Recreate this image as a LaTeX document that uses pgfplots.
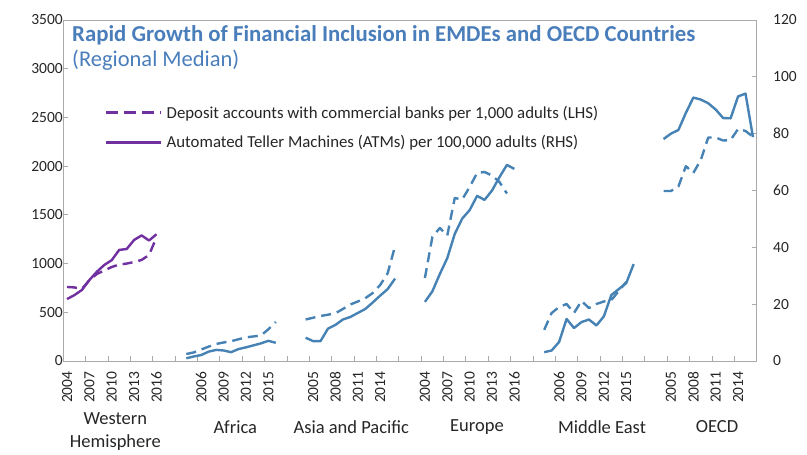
\documentclass[border=0pt]{standalone}
\usepackage{pgfplots}
\pgfplotsset{compat=1.18}
\usepackage{fontspec}
\setmainfont{Carlito}
\definecolor{wblue}{RGB}{70,130,180}
\definecolor{wpurp}{RGB}{112,48,160}
\definecolor{tblue}{RGB}{74,126,187}
\definecolor{agray}{RGB}{170,170,170}
\begin{document}
\begin{tikzpicture}
\useasboundingbox (-63.3pt,-94pt) rectangle (743.7pt,361pt);
\pgfplotsset{
 common/.style={
  scale only axis, width=693.4pt, height=341pt, at={(0pt,0pt)}, anchor=south west,
  xmin=-0.5, xmax=92.5, ymin=0,
  axis line style={agray, line width=0.9pt},
  tick style={agray, line width=0.9pt},
  major tick length=5pt,
  ticklabel style={font=\fontsize{15.5}{18}\selectfont, text=black!85},
  /pgf/number format/assume math mode=true,
  /pgf/number format/set thousands separator={},
  clip=false,
 },
 dsh/.style={line width=2.4pt, dash pattern=on 10pt off 6pt, line join=round},
 sol/.style={line width=2.4pt, line join=round},
}
\begin{axis}[common,
  ymax=3500, ytick={0,500,...,3500}, ytick pos=left,
  yticklabel style={xshift=3pt},
  xtick pos=bottom,
  xtick={0,3,6,9,12,18,21,24,27,33,36,39,42,48,51,54,57,60,66,69,72,75,81,84,87,90},
  xticklabels={2004,2007,2010,2013,2016,2006,2009,2012,2015,2005,2008,2011,2014,2004,2007,2010,2013,2016,2006,2009,2012,2015,2005,2008,2011,2014},
  xticklabel style={yshift=-7pt, rotate=90, anchor=east},
  xtick style={draw=none},
  extra x ticks={2.5,5.5,...,89.5},
  extra x tick labels={},
  extra x tick style={xtick style={draw=agray, line width=0.9pt}},
]
% Western Hemisphere (LHS)
\addplot[wpurp, dsh] coordinates {(0,760)(1,755)(2,740)(3,830)(4,893)(5,929)(6,965)(7,990)(8,1000)(9,1016)(10,1037)(11,1088)(12,1270)};
% Africa
\addplot[wblue, dsh] coordinates {(16,72)(17,88)(18,118)(19,148)(20,175)(21,190)(22,203)(23,223)(24,243)(25,252)(26,262)(27,325)(28,400)};
% Asia and Pacific
\addplot[wblue, dsh] coordinates {(32,426)(33,444)(34,462)(35,475)(36,490)(37,534)(38,580)(39,611)(40,644)(41,698)(42,780)(43,900)(44,1180)};
% Europe
\addplot[wblue, dsh] coordinates {(48,852)(49,1273)(50,1365)(51,1288)(52,1673)(53,1658)(54,1786)(55,1930)(56,1940)(57,1904)(58,1837)(59,1719)};
% Middle East
\addplot[wblue, dsh] coordinates {(64,320)(65,493)(66,554)(67,585)(68,493)(69,616)(70,544)(71,585)(72,611)(73,626)(74,718)(75,811)};
% OECD
\addplot[wblue, dsh] coordinates {(80,1745)(81,1745)(82,1791)(83,2000)(84,1930)(85,2063)(86,2294)(87,2294)(88,2263)(89,2268)(90,2381)(91,2361)(92,2302)};
\end{axis}
\begin{axis}[common,
  ymax=120, ytick={0,20,...,120},
  axis y line*=right, axis x line=none,
  yticklabel style={xshift=13pt},
  legend style={at={(0.06,0.752)}, anchor=north west, draw=none, fill=none,
    font=\fontsize{16.8}{19}\selectfont, inner sep=0pt, row sep=14pt,
    nodes={inner sep=1pt, text=black!85}},
  legend cell align=left,
  legend image code/.code={\draw[#1] (0pt,0pt) -- (55pt,0pt);},
]
\addlegendimage{wpurp, line width=2.6pt, dash pattern=on 12pt off 6pt}
\addlegendentry{\hspace{3pt}Deposit accounts with commercial banks per 1,000 adults (LHS)}
\addlegendimage{wpurp, line width=2.6pt}
\addlegendentry{\hspace{3pt}Automated Teller Machines (ATMs) per 100,000 adults (RHS)}
\addplot[wpurp, sol, forget plot] coordinates {(0,21.8)(1,23.2)(2,25.0)(3,28.5)(4,31.4)(5,33.8)(6,35.5)(7,39.1)(8,39.4)(9,42.6)(10,44.2)(11,42.4)(12,44.6)};
\addplot[wblue, sol, forget plot] coordinates {(16,0.95)(17,1.6)(18,2.1)(19,3.3)(20,3.9)(21,3.7)(22,3.1)(23,4.2)(24,4.8)(25,5.5)(26,6.2)(27,7.1)(28,6.4)};
\addplot[wblue, sol, forget plot] coordinates {(32,8.2)(33,7.0)(34,7.0)(35,11.4)(36,12.7)(37,14.6)(38,15.5)(39,16.9)(40,18.3)(41,20.6)(42,23.0)(43,25.3)(44,29.0)};
\addplot[wblue, sol, forget plot] coordinates {(48,20.8)(49,24.5)(50,30.6)(51,36.2)(52,44.7)(53,50.1)(54,53.1)(55,58.1)(56,56.7)(57,60.0)(58,64.7)(59,69.0)(60,67.6)};
\addplot[wblue, sol, forget plot] coordinates {(64,3.1)(65,3.7)(66,6.7)(67,14.8)(68,11.6)(69,13.7)(70,14.6)(71,12.5)(72,15.7)(73,23.2)(74,25.3)(75,27.4)(76,34.1)};
\addplot[wblue, sol, forget plot] coordinates {(80,78.1)(81,80.0)(82,81.3)(83,87.3)(84,92.7)(85,92.0)(86,90.7)(87,88.5)(88,85.5)(89,85.4)(90,93.1)(91,94.1)(92,78.8)};
\end{axis}
\node[anchor=base west, inner sep=0pt, font=\fontsize{22.8}{26}\selectfont\bfseries, text=tblue] at (8.7pt,319pt) {Rapid Growth of Financial Inclusion in EMDEs and OECD Countries};
\node[anchor=base west, inner sep=0pt, font=\fontsize{22.5}{26}\selectfont, text=tblue] at (8.7pt,294pt) {(Regional Median)};
\begin{scope}[every node/.style={font=\fontsize{18.5}{23}\selectfont, text=black!85, inner sep=0pt}]
\node[align=center, anchor=north] at (52pt,-51pt) {Western\\Hemisphere};
\node at (172pt,-66pt) {Africa};
\node at (288pt,-66pt) {Asia and Pacific};
\node at (413.7pt,-66pt) {Europe};
\node at (538.7pt,-66pt) {Middle East};
\node at (653.7pt,-66pt) {OECD};
\end{scope}
\end{tikzpicture}
\end{document}
